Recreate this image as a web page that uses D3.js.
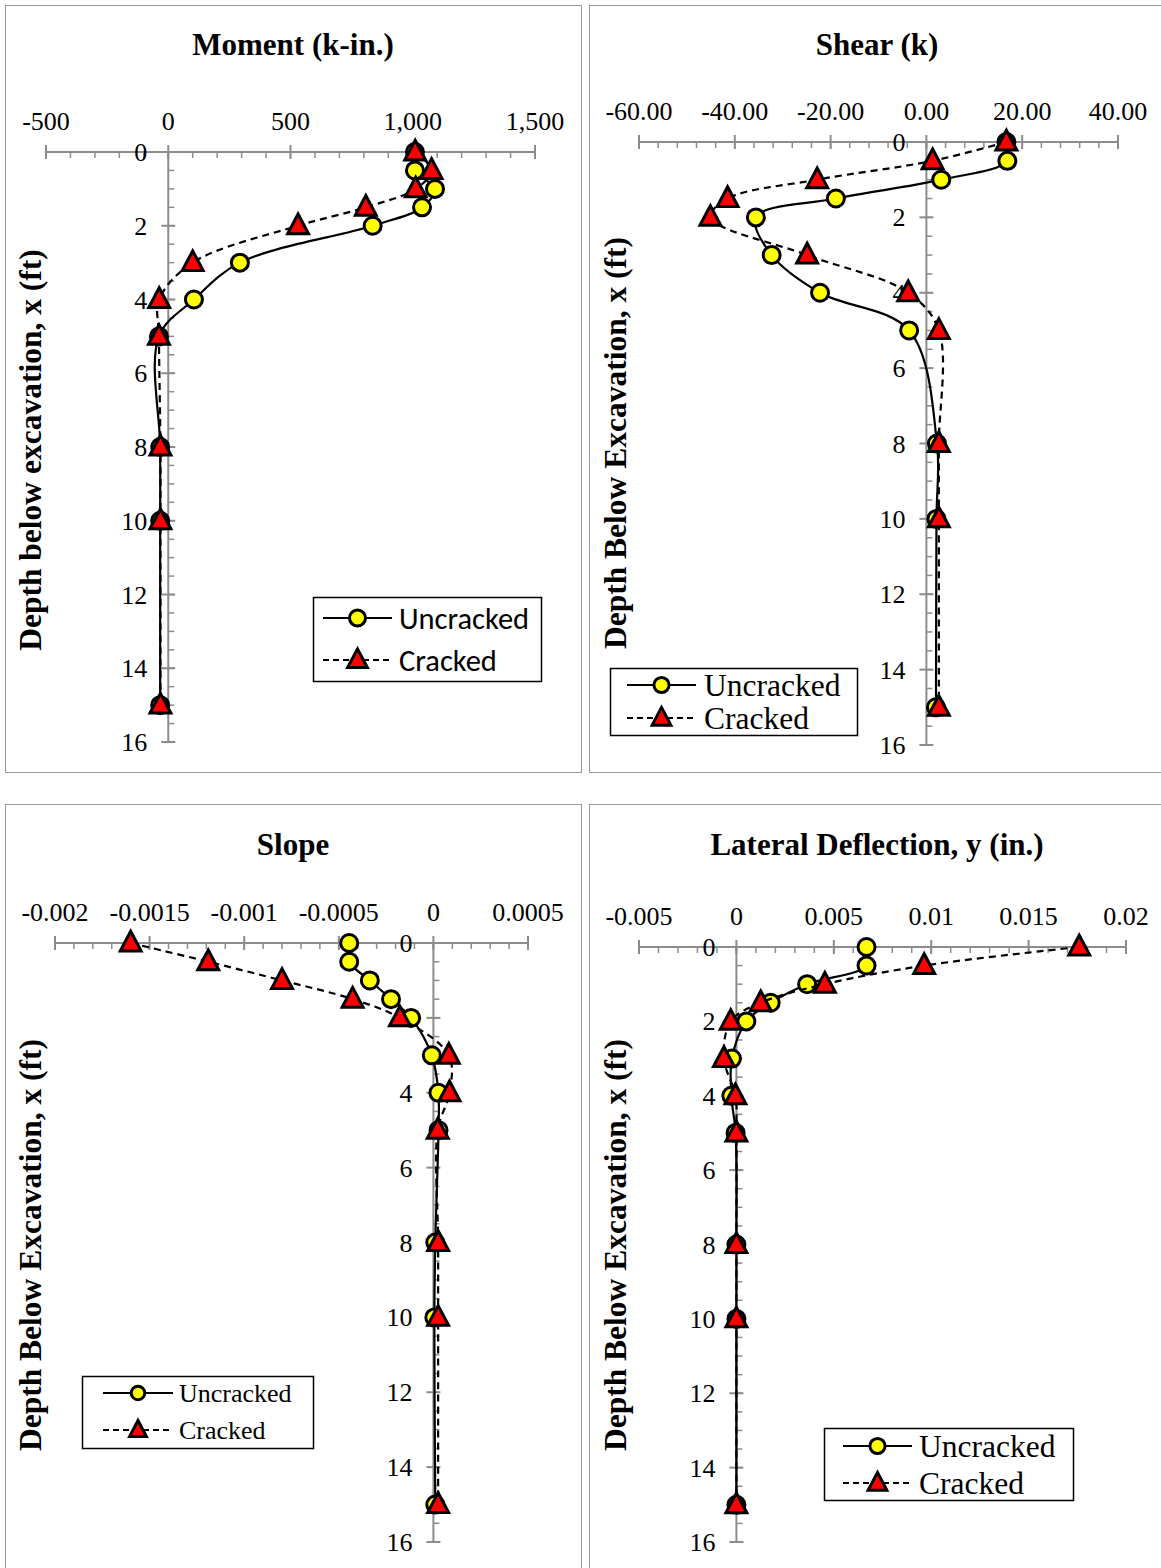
<!DOCTYPE html>
<html><head><meta charset="utf-8">
<script src="https://cdn.jsdelivr.net/npm/d3@7"></script>
<style>html,body{margin:0;padding:0;background:#fff;}svg{display:block;}</style>
</head><body>
<script>
// ---------- DATA ----------
const depth = [0, 0.5, 1, 1.5, 2, 3, 4, 5, 8, 10, 15];
const seriesNames = ["Uncracked", "Cracked"];

const momentUncracked = [1009, 1009, 1091, 1038, 836, 293, 105, -38, -33, -33, -33];
const momentCracked   = [1010, 1077, 1012, 808, 531, 100, -37, -38, -32, -32, -32];

const shearUncracked = [16.7, 16.9, 3.1, -18.9, -35.6, -32.3, -22.2, -3.6, 2.2, 2.1, 2.0];
const shearCracked   = [16.7, 1.3, -22.8, -41.5, -45.1, -24.9, -3.8, 2.6, 2.6, 2.6, 2.6];

const slopeUncracked = [-0.000445, -0.000445, -0.000336, -0.000224, -0.000118, -0.0000085, 0.0000265, 0.000027, 0.00001, 0.000005, 0.00001];
const slopeCracked   = [-0.0016, -0.00119, -0.0008, -0.000427, -0.000177, 0.0000815, 0.000085, 0.000023, 0.000025, 0.000025, 0.000025];

const deflUncracked = [0.00668, 0.00668, 0.00363, 0.00176, 0.00051, -0.00023, -0.00026, -0.00004, 0, 0, 0];
const deflCracked   = [0.0176, 0.00964, 0.00454, 0.00125, -0.00029, -0.00064, -0.00005, 0, 0, 0, 0];

const momentTicks = [-500, 0, 500, 1000, 1500];
const momentTickLabels = ["-500", "0", "500", "1,000", "1,500"];
const shearTicks = [-60, -40, -20, 0, 20, 40];
const shearTickLabels = ["-60.00", "-40.00", "-20.00", "0.00", "20.00", "40.00"];
const slopeTicks = [-0.002, -0.0015, -0.001, -0.0005, 0, 0.0005];
const slopeTickLabels = ["-0.002", "-0.0015", "-0.001", "-0.0005", "0", "0.0005"];
const deflTicks = [-0.005, 0, 0.005, 0.01, 0.015, 0.02];
const deflTickLabels = ["-0.005", "0", "0.005", "0.01", "0.015", "0.02"];
const depthTicks = [0, 2, 4, 6, 8, 10, 12, 14, 16];
const depthTickLabels = ["0", "2", "4", "6", "8", "10", "12", "14", "16"];

const titles = ["Moment (k-in.)", "Shear (k)", "Slope", "Lateral Deflection, y (in.)"];
const yTitles = ["Depth below excavation, x (ft)", "Depth Below Excavation, x (ft)", "Depth Below Excavation, x (ft)", "Depth Below Excavation, x (ft)"];

// ---------- LAYOUT ----------
const W = 1161, H = 1568;
const svg = d3.select("body").append("svg").attr("width", W).attr("height", H);
svg.append("rect").attr("width", W).attr("height", H).attr("fill", "#fff");

const SERIF = "'Liberation Serif','Times New Roman',serif";
const SANS = "Carlito, Lato, 'Open Sans', sans-serif";
const GRAY = "#8c8c8c";

const panels = [
  { title: titles[0], yTitle: yTitles[0], un: momentUncracked, cr: momentCracked,
    ticks: momentTicks, tickLabels: momentTickLabels, minor: 100,
    frame: [5.5, 5.5, 576, 767], titleX: 293, titleY: 55, yTitleX: 30, yTitleY: 450,
    xr: [46, 535], yr: [152, 742],
    leg: { box: [313.5, 597.5, 228, 84], rows: [618, 660], line: [323, 392], text: 399, font: SANS, size: 30.5, mk: 1 } },
  { title: titles[1], yTitle: yTitles[1], un: shearUncracked, cr: shearCracked,
    ticks: shearTicks, tickLabels: shearTickLabels, minor: 4,
    frame: [589.5, 5.5, 600, 767], titleX: 877, titleY: 55, yTitleX: 615, yTitleY: 443,
    xr: [639, 1118], yr: [142, 745],
    leg: { box: [610.5, 668.5, 247, 67], rows: [685, 718], line: [627, 696], text: 704, font: SERIF, size: 31.5, mk: 0.95 } },
  { title: titles[2], yTitle: yTitles[2], un: slopeUncracked, cr: slopeCracked,
    ticks: slopeTicks, tickLabels: slopeTickLabels, minor: 0.0001,
    frame: [5.5, 804.5, 576, 800], titleX: 293, titleY: 855, yTitleX: 30, yTitleY: 1245,
    xr: [55, 528], yr: [943, 1542],
    leg: { box: [82.5, 1376.5, 231, 72], rows: [1393, 1430], line: [103, 173], text: 179, font: SERIF, size: 26, mk: 0.85 } },
  { title: titles[3], yTitle: yTitles[3], un: deflUncracked, cr: deflCracked,
    ticks: deflTicks, tickLabels: deflTickLabels, minor: 0.001,
    frame: [589.5, 804.5, 600, 800], titleX: 877, titleY: 855, yTitleX: 615, yTitleY: 1245,
    xr: [639, 1126], yr: [947, 1542],
    leg: { box: [824.5, 1428.5, 249, 72], rows: [1446, 1483], line: [843, 912], text: 919, font: SERIF, size: 31.5, mk: 0.95 } }
];

const triPath = s => `M0,${-s*0.62}L${s*0.55},${s*0.42}L${-s*0.55},${s*0.42}Z`;

function drawCircle(g, x, y, r) {
  g.append("circle").attr("cx", x).attr("cy", y).attr("r", r)
    .attr("fill", "#ffff00").attr("stroke", "#000").attr("stroke-width", 3);
}
function drawTri(g, x, y, s) {
  g.append("path").attr("d", triPath(s)).attr("transform", `translate(${x},${y})`)
    .attr("fill", "#ff0000").attr("stroke", "#000").attr("stroke-width", 3).attr("stroke-linejoin", "miter");
}

panels.forEach(p => {
  const g = svg.append("g");
  g.append("rect").attr("x", p.frame[0]).attr("y", p.frame[1]).attr("width", p.frame[2]).attr("height", p.frame[3])
    .attr("fill", "none").attr("stroke", "#9a9a9a").attr("stroke-width", 1);

  const x = d3.scaleLinear().domain([p.ticks[0], p.ticks[p.ticks.length - 1]]).range(p.xr);
  const y = d3.scaleLinear().domain([0, 16]).range(p.yr);
  const x0 = x(0), y0 = y(0);

  // title
  g.append("text").attr("x", p.titleX).attr("y", p.titleY).attr("text-anchor", "middle")
    .attr("font-family", SERIF).attr("font-weight", "bold").attr("font-size", 31).text(p.title);
  // y title
  g.append("text").attr("transform", `translate(${p.yTitleX},${p.yTitleY}) rotate(-90)`)
    .attr("text-anchor", "middle").attr("dy", "0.35em")
    .attr("font-family", SERIF).attr("font-weight", "bold").attr("font-size", 31.5).text(p.yTitle);

  // X axis (top)
  const nMinor = Math.round((p.ticks[p.ticks.length - 1] - p.ticks[0]) / p.minor);
  const minorX = d3.range(nMinor + 1).map(i => p.ticks[0] + i * p.minor);
  const ax = g.append("g");
  ax.selectAll("line.minor").data(minorX).join("line")
    .attr("x1", d => x(d)).attr("x2", d => x(d)).attr("y1", y0).attr("y2", y0 + 6)
    .attr("stroke", GRAY).attr("stroke-width", 1.5);
  ax.selectAll("line.major").data(p.ticks).join("line")
    .attr("x1", d => x(d)).attr("x2", d => x(d)).attr("y1", y0 - 7).attr("y2", y0 + 7)
    .attr("stroke", GRAY).attr("stroke-width", 2);
  ax.append("line").attr("x1", p.xr[0]).attr("x2", p.xr[1]).attr("y1", y0).attr("y2", y0)
    .attr("stroke", GRAY).attr("stroke-width", 2);
  ax.selectAll("text").data(p.ticks).join("text")
    .attr("x", d => x(d)).attr("y", y0 - 22).attr("text-anchor", "middle")
    .attr("font-family", SERIF).attr("font-size", 26).attr("fill", "#000")
    .text((d, i) => p.tickLabels[i]);

  // Y axis
  const minorY = d3.range(0, 16.01, 0.5);
  const ay = g.append("g");
  ay.selectAll("line.minor").data(minorY).join("line")
    .attr("y1", d => y(d)).attr("y2", d => y(d)).attr("x1", x0).attr("x2", x0 + 6)
    .attr("stroke", GRAY).attr("stroke-width", 1.5);
  ay.selectAll("line.major").data(depthTicks).join("line")
    .attr("y1", d => y(d)).attr("y2", d => y(d)).attr("x1", x0 - 7).attr("x2", x0 + 7)
    .attr("stroke", GRAY).attr("stroke-width", 2);
  ay.append("line").attr("x1", x0).attr("x2", x0).attr("y1", y(0)).attr("y2", y(16))
    .attr("stroke", GRAY).attr("stroke-width", 2);
  ay.selectAll("text").data(depthTicks).join("text")
    .attr("x", x0 - 21).attr("y", d => y(d)).attr("dy", "0.35em").attr("text-anchor", "end")
    .attr("font-family", SERIF).attr("font-size", 26).attr("fill", "#000")
    .text((d, i) => depthTickLabels[i]);

  // series
  const line = d3.line().x(d => x(d[0])).y(d => y(d[1])).curve(d3.curveCatmullRom.alpha(0.5));
  const un = p.un.map((v, i) => [v, depth[i]]);
  const cr = p.cr.map((v, i) => [v, depth[i]]);
  const sg = g.append("g");
  sg.append("path").attr("d", line(un)).attr("fill", "none").attr("stroke", "#000").attr("stroke-width", 2.2);
  un.forEach(d => drawCircle(sg, x(d[0]), y(d[1]), 8.5));
  sg.append("path").attr("d", line(cr)).attr("fill", "none").attr("stroke", "#000").attr("stroke-width", 2.2)
    .attr("stroke-dasharray", "7,5");
  cr.forEach(d => drawTri(sg, x(d[0]), y(d[1]), 19));

  // legend
  const L = p.leg;
  const lg = g.append("g");
  lg.append("rect").attr("x", L.box[0]).attr("y", L.box[1]).attr("width", L.box[2]).attr("height", L.box[3])
    .attr("fill", "#fff").attr("stroke", "#000").attr("stroke-width", 1.5);
  const mx = (L.line[0] + L.line[1]) / 2;
  lg.append("line").attr("x1", L.line[0]).attr("x2", L.line[1]).attr("y1", L.rows[0]).attr("y2", L.rows[0])
    .attr("stroke", "#000").attr("stroke-width", 2.2);
  drawCircle(lg, mx, L.rows[0], 8 * L.mk);
  lg.append("line").attr("x1", L.line[0]).attr("x2", L.line[1]).attr("y1", L.rows[1]).attr("y2", L.rows[1])
    .attr("stroke", "#000").attr("stroke-width", 2.2).attr("stroke-dasharray", "6,4");
  drawTri(lg, mx, L.rows[1], 18 * L.mk);
  seriesNames.forEach((n, i) => {
    lg.append("text").attr("x", L.text).attr("y", L.rows[i]).attr("dy", "0.35em")
      .attr("font-family", L.font).attr("font-size", L.size).attr("fill", "#000").text(n);
  });
});
</script>
</body></html>
